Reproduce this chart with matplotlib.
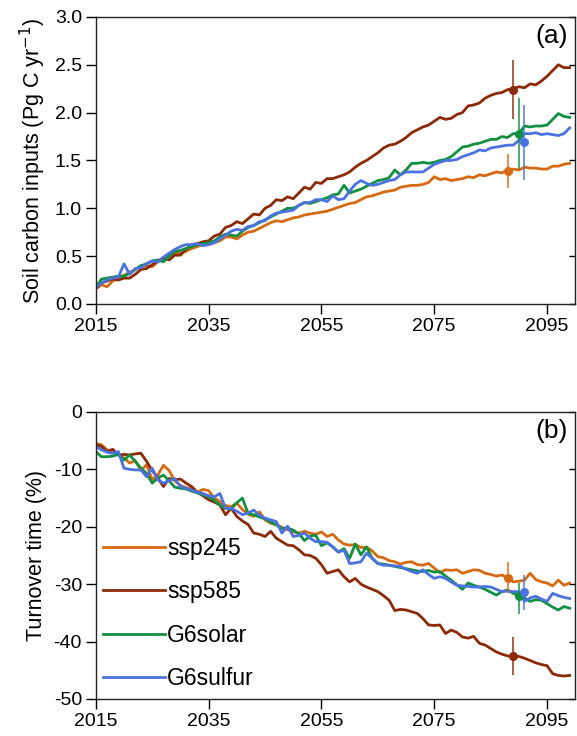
import numpy as np
import matplotlib
matplotlib.use("Agg")
import matplotlib.pyplot as plt

plt.rcParams['font.family'] = ['Liberation Sans', 'DejaVu Sans']
plt.rcParams['axes.unicode_minus'] = False

years = np.arange(2015, 2100)

# (a) soil carbon inputs, Pg C yr-1
inp_ssp245 = [0.16, 0.20, 0.18, 0.24, 0.27, 0.30, 0.33, 0.36, 0.40, 0.40,
              0.39, 0.44, 0.47, 0.50, 0.53, 0.53, 0.55, 0.58, 0.60, 0.62,
              0.62, 0.64, 0.66, 0.70, 0.70, 0.68, 0.72, 0.75, 0.76, 0.79,
              0.82, 0.85, 0.87, 0.86, 0.88, 0.90, 0.91, 0.93, 0.94, 0.95,
              0.96, 0.97, 0.99, 1.01, 1.03, 1.05, 1.06, 1.09, 1.12, 1.13,
              1.15, 1.17, 1.18, 1.19, 1.22, 1.23, 1.24, 1.24, 1.25, 1.27,
              1.33, 1.30, 1.31, 1.29, 1.30, 1.31, 1.33, 1.32, 1.35, 1.34,
              1.36, 1.38, 1.37, 1.40, 1.41, 1.40, 1.43, 1.42, 1.42, 1.41,
              1.41, 1.44, 1.44, 1.46, 1.47]
inp_ssp585 = [0.16, 0.22, 0.24, 0.26, 0.25, 0.27, 0.27, 0.31, 0.36, 0.37,
              0.41, 0.45, 0.48, 0.46, 0.51, 0.51, 0.57, 0.62, 0.63, 0.65,
              0.66, 0.71, 0.73, 0.80, 0.82, 0.86, 0.84, 0.89, 0.94, 0.93,
              1.00, 1.03, 1.09, 1.08, 1.12, 1.10, 1.16, 1.22, 1.20, 1.27,
              1.26, 1.31, 1.31, 1.33, 1.35, 1.38, 1.43, 1.47, 1.50, 1.54,
              1.58, 1.63, 1.66, 1.67, 1.70, 1.74, 1.79, 1.82, 1.85, 1.87,
              1.91, 1.95, 1.93, 1.94, 1.98, 2.00, 2.07, 2.08, 2.10, 2.15,
              2.18, 2.20, 2.21, 2.24, 2.25, 2.27, 2.26, 2.30, 2.29, 2.33,
              2.38, 2.44, 2.50, 2.47, 2.47]
inp_solar = [0.17, 0.26, 0.27, 0.28, 0.29, 0.29, 0.32, 0.36, 0.40, 0.42,
             0.45, 0.46, 0.44, 0.50, 0.55, 0.56, 0.58, 0.60, 0.62, 0.63,
             0.64, 0.66, 0.70, 0.73, 0.72, 0.71, 0.76, 0.80, 0.82, 0.85,
             0.88, 0.91, 0.94, 0.97, 1.00, 1.00, 1.03, 1.06, 1.05, 1.07,
             1.09, 1.11, 1.14, 1.15, 1.24, 1.16, 1.18, 1.20, 1.23, 1.26,
             1.29, 1.30, 1.32, 1.40, 1.35, 1.40, 1.47, 1.47, 1.48, 1.47,
             1.48, 1.50, 1.51, 1.54, 1.59, 1.64, 1.65, 1.67, 1.68, 1.70,
             1.72, 1.72, 1.75, 1.74, 1.78, 1.78, 1.86, 1.85, 1.86, 1.86,
             1.87, 1.93, 1.99, 1.96, 1.95]
inp_sulfur = [0.17, 0.22, 0.25, 0.27, 0.28, 0.42, 0.31, 0.37, 0.38, 0.42,
              0.45, 0.44, 0.49, 0.53, 0.57, 0.60, 0.62, 0.62, 0.63, 0.61,
              0.62, 0.64, 0.68, 0.72, 0.76, 0.78, 0.77, 0.81, 0.82, 0.86,
              0.87, 0.92, 0.95, 0.96, 0.97, 0.98, 1.03, 1.06, 1.06, 1.09,
              1.09, 1.07, 1.13, 1.09, 1.10, 1.18, 1.25, 1.29, 1.26, 1.24,
              1.25, 1.27, 1.29, 1.30, 1.35, 1.38, 1.38, 1.38, 1.38, 1.42,
              1.46, 1.48, 1.50, 1.50, 1.51, 1.54, 1.56, 1.58, 1.61, 1.60,
              1.63, 1.64, 1.65, 1.66, 1.66, 1.71, 1.78, 1.78, 1.79, 1.77,
              1.78, 1.77, 1.76, 1.78, 1.84]

# (b) turnover time change, %
tau_ssp245 = [-5.5, -5.7, -6.6, -6.8, -7.4, -8.0, -8.9, -8.5, -10.2, -9.2,
              -11.8, -11.0, -9.3, -10.2, -12.0, -12.8, -13.2, -13.4, -14.0, -13.5,
              -13.7, -15.0, -15.6, -16.3, -16.5, -15.9, -17.0, -17.8, -18.2, -17.4,
              -18.8, -19.4, -19.6, -20.1, -20.5, -20.9, -21.1, -20.8, -21.1, -21.3,
              -20.9, -21.7, -21.3, -22.3, -23.0, -23.2, -23.1, -23.6, -23.6, -24.2,
              -25.2, -25.4, -25.9, -26.1, -26.5, -26.2, -26.1, -26.6, -26.7, -26.4,
              -27.2, -28.0, -27.5, -27.6, -27.5, -28.1, -27.8, -27.5, -27.6, -28.1,
              -28.3, -28.6, -28.4, -28.9, -29.6, -29.5, -29.3, -28.1, -29.2, -29.6,
              -29.8, -30.3, -29.3, -30.2, -29.8]
tau_ssp585 = [-5.7, -6.0, -6.9, -6.5, -7.5, -7.4, -7.5, -7.3, -7.2, -8.6,
              -10.2, -11.5, -13.0, -11.6, -11.8, -11.7, -12.4, -13.0, -14.0, -14.6,
              -15.3, -15.7, -16.2, -17.9, -16.8, -18.2, -19.0, -19.6, -21.1, -21.3,
              -21.7, -20.8, -22.0, -22.6, -23.2, -23.3, -24.0, -24.9, -25.0, -25.5,
              -26.6, -28.1, -27.8, -27.5, -28.7, -29.6, -29.0, -30.0, -30.5, -30.9,
              -31.3, -32.0, -32.8, -34.6, -34.4, -34.5, -34.8, -35.1, -36.0, -37.1,
              -37.2, -37.1, -38.6, -38.0, -38.4, -39.2, -39.4, -39.1, -40.3, -40.6,
              -41.2, -41.8, -42.2, -42.5, -42.6, -42.6, -42.9, -43.3, -43.7, -44.0,
              -44.2, -45.6, -45.9, -46.0, -45.9]
tau_solar = [-6.9, -7.8, -7.8, -7.7, -7.4, -8.4, -7.5, -8.6, -9.8, -10.7,
             -12.4, -11.5, -11.0, -12.0, -13.1, -13.3, -13.4, -13.8, -14.1, -14.4,
             -14.8, -15.4, -16.2, -16.8, -16.9, -15.8, -15.0, -17.7, -17.9, -18.3,
             -18.6, -19.2, -19.7, -20.3, -20.2, -20.6, -21.2, -22.4, -21.6, -21.5,
             -23.3, -22.8, -23.5, -24.4, -23.8, -25.5, -23.0, -24.9, -23.5, -25.5,
             -26.4, -26.5, -26.7, -26.9, -27.1, -27.3, -27.5, -27.7, -27.8, -27.6,
             -27.9, -27.8, -28.6, -29.3, -30.1, -30.9, -29.8, -30.2, -30.5, -30.9,
             -31.4, -31.9, -31.3, -31.0, -31.6, -32.0, -32.4, -33.0, -32.7, -32.8,
             -33.4, -34.0, -34.5, -33.9, -34.2]
tau_sulfur = [-6.0, -6.6, -7.0, -7.2, -6.9, -9.8, -10.0, -10.1, -10.1, -11.3,
              -9.8, -11.8, -12.4, -12.0, -11.6, -13.0, -13.3, -13.6, -14.0, -14.2,
              -14.6, -14.8, -14.2, -16.8, -16.8, -17.3, -17.9, -17.6, -17.1, -18.0,
              -18.5, -18.8, -19.1, -21.1, -19.9, -21.7, -21.5, -21.1, -22.0, -22.6,
              -22.6, -22.7, -23.5, -24.4, -24.1, -26.4, -26.3, -26.1, -24.6, -25.5,
              -26.4, -26.7, -26.7, -26.8, -26.9, -27.4, -27.8, -28.1, -27.5, -28.3,
              -29.0, -28.7, -29.0, -29.6, -30.2, -30.3, -30.4, -30.5, -30.5, -30.4,
              -30.5, -30.9, -31.3, -31.2, -31.3, -31.3, -33.0, -32.4, -32.1, -32.6,
              -33.0, -31.6, -32.0, -32.3, -32.5]

names = ['ssp245', 'ssp585', 'G6solar', 'G6sulfur']
colors = ['#d76a10', '#8c2a06', '#119040', '#4a72e0']

# end-of-century mean and spread markers
err_x = [2088, 2089, 2090, 2091]
inp_mean = [1.39, 2.24, 1.78, 1.69]
inp_lo = [1.22, 1.94, 1.42, 1.31]
inp_hi = [1.56, 2.54, 2.14, 2.07]
tau_mean = [-28.9, -42.5, -32.0, -31.4]
tau_lo = [-31.4, -45.7, -35.0, -34.4]
tau_hi = [-26.4, -39.4, -29.9, -28.6]

fig = plt.figure(figsize=(5.77, 7.36), dpi=100)
ax1 = fig.add_axes([0.166, 0.587, 0.831, 0.39])
ax2 = fig.add_axes([0.166, 0.0503, 0.831, 0.39])

panels = [
    (ax1, [inp_ssp245, inp_ssp585, inp_solar, inp_sulfur], inp_mean, inp_lo, inp_hi),
    (ax2, [tau_ssp245, tau_ssp585, tau_solar, tau_sulfur], tau_mean, tau_lo, tau_hi),
]

for ax, series, m, lo, hi in panels:
    for s, c, n in zip(series, colors, names):
        ax.plot(years, s, color=c, lw=2.0, label=n)
    for x, mm, l, h, c in zip(err_x, m, lo, hi, colors):
        ax.plot([x, x], [l, h], color=c, lw=1.4, alpha=0.75)
        ax.plot(x, mm, 'o', color=c, ms=5.5, mec=c)
    ax.set_xlim(2015, 2100)
    ax.set_xticks([2015, 2035, 2055, 2075, 2095])
    ax.tick_params(axis='both', direction='out', length=7, width=1.0,
                   labelsize=14, pad=3)
    for sp in ['left', 'bottom', 'right', 'top']:
        ax.spines[sp].set_linewidth(1.0)
        ax.spines[sp].set_color('#222222')
    sec = ax.secondary_yaxis('right')
    sec.tick_params(direction='in', length=4, width=1.0, labelright=False)
    sec.spines['right'].set_visible(False)

ax1.set_ylim(0, 3.0)
ax1.set_yticks([0.0, 0.5, 1.0, 1.5, 2.0, 2.5, 3.0])
ax1.set_yticklabels(['0.0', '0.5', '1.0', '1.5', '2.0', '2.5', '3.0'])
ax1.set_ylabel('Soil carbon inputs (Pg C yr$^{-1}$)', fontsize=15.5, labelpad=5)
ax1.text(0.985, 0.975, '(a)', transform=ax1.transAxes, ha='right', va='top',
         fontsize=19)

ax2.set_ylim(-50, 0)
ax2.set_yticks([0, -10, -20, -30, -40, -50])
ax2.set_ylabel('Turnover time (%)', fontsize=15.5, labelpad=5)
ax2.text(0.985, 0.975, '(b)', transform=ax2.transAxes, ha='right', va='top',
         fontsize=19)

leg = ax2.legend(names, loc='center left', bbox_to_anchor=(0.015, 0.298),
                 frameon=False, fontsize=16.5, handlelength=2.7, handletextpad=0.1,
                 labelspacing=0.88, borderpad=0, borderaxespad=0)
for line, c in zip(leg.get_lines(), colors):
    line.set_color(c)
    line.set_linewidth(2.0)

fig.savefig('out.png', dpi=100)
